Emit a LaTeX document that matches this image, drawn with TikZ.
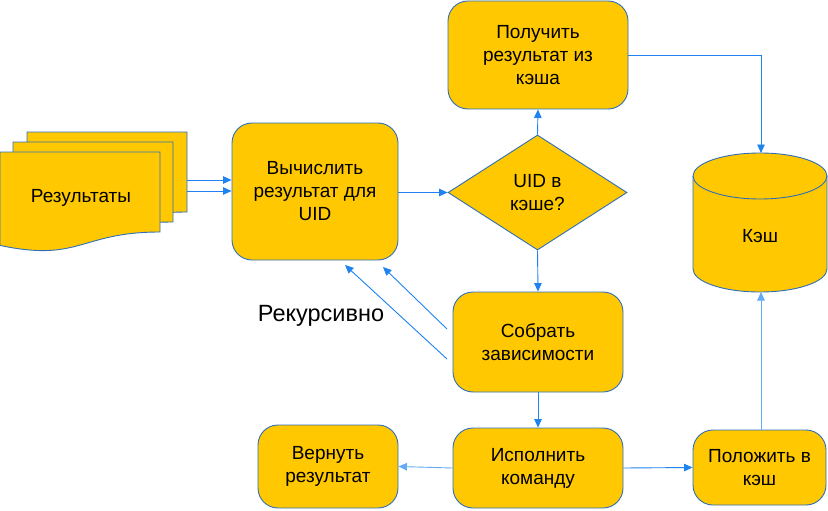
\documentclass[tikz,border=0pt]{standalone}
\usepackage{fontspec}
\setmainfont{Liberation Sans}
\usetikzlibrary{arrows.meta,shapes.geometric}
\definecolor{boxfill}{RGB}{255,200,0}
\definecolor{boxline}{RGB}{46,110,185}
\definecolor{arrowc}{RGB}{30,130,240}
\definecolor{arrowl}{RGB}{100,170,245}
\begin{document}
\begin{tikzpicture}[x=1pt,y=-1pt,
  every node/.style={font=\fontsize{19}{23}\selectfont},
  box/.style={draw=boxline,fill=boxfill,line width=0.9pt,rounded corners=20pt,align=center,inner sep=0pt},
  doc/.style={draw=boxline,fill=boxfill,line width=0.9pt},
  conn/.style={draw=arrowc,line width=0.9pt,-{Triangle[length=8.5pt,width=7.5pt]}}]
\useasboundingbox (0,0) rectangle (828,511);
% multi-document
\foreach \dx/\dy in {27/132,13/142,0/152}{
  \begin{scope}[shift={(\dx,\dy)}]
  \path[doc] (0,0) -- (160,0) -- (160,80)
    .. controls (80,80) and (80,110.5) .. (0,93.4) -- cycle;
  \end{scope}
}
\coordinate (docr1) at (187,180);
\coordinate (docr2) at (187,191);
\node (res) at (81,198) {Результаты};
% boxes
\node[box,minimum width=166pt,minimum height=137pt] (calc) at (315,191.5) {Вычислить\\результат для\\UID};
\node[box,minimum width=180pt,minimum height=108pt] (get) at (538,55) {Получить\\результат из\\кэша};
\node[draw=boxline,fill=boxfill,line width=0.9pt,diamond,aspect=1.55,inner sep=0pt,minimum width=179pt,minimum height=115pt,align=center] (uid) at (537.5,192.5) {UID в\\кэше?};
\node[box,minimum width=170pt,minimum height=100pt] (deps) at (538,342) {Собрать\\зависимости};
\node[box,minimum width=170pt,minimum height=80pt] (exec) at (538,468) {Исполнить\\команду};
\node[box,minimum width=140pt,minimum height=83pt] (ret) at (328,466.5) {Вернуть\\результат};
\node[box,minimum width=133pt,minimum height=75pt] (put) at (759.5,467.5) {Положить в\\кэш};
% cylinder
\path[doc] (693,176) -- (693,269) arc[start angle=180,end angle=360,x radius=67,y radius=-23] -- (827,176) arc[start angle=0,end angle=180,x radius=67,y radius=-23] -- cycle;
\draw[boxline,line width=0.9pt] (693,176) arc[start angle=180,end angle=360,x radius=67,y radius=-23];
\coordinate (cachetop) at (761,153);
\coordinate (cachebot) at (761,292);
\node (cache) at (760,236) {Кэш};
% label
\node[font=\fontsize{23.5}{27}\selectfont] (rec) at (321,316) {Рекурсивно};
% connectors
\draw[conn] (docr1) -- (calc.west |- docr1);
\draw[conn] (docr2) -- (calc.west |- docr2);
\draw[conn] (calc.east |- uid.west) -- (uid.west);
\draw[conn] (uid.north) -- (get.south);
\draw[conn] (uid.south) -- (deps.north);
\draw[conn] (get.east) -| (cachetop);
\draw[conn,draw=arrowl] (put.north -| cachebot) -- (cachebot);
\draw[conn] (deps.south) -- (exec.north);
\draw[conn,draw=arrowl] (exec.west) -- (ret.east);
\draw[conn] (exec.east) -- (put.west);
\coordinate (r1s) at (447,329);
\coordinate (r1e) at (383,267);
\coordinate (r2s) at (447,359);
\coordinate (r2e) at (345,265);
\draw[conn] (r1s) -- (r1e);
\draw[conn] (r2s) -- (r2e);
\end{tikzpicture}
\end{document}
